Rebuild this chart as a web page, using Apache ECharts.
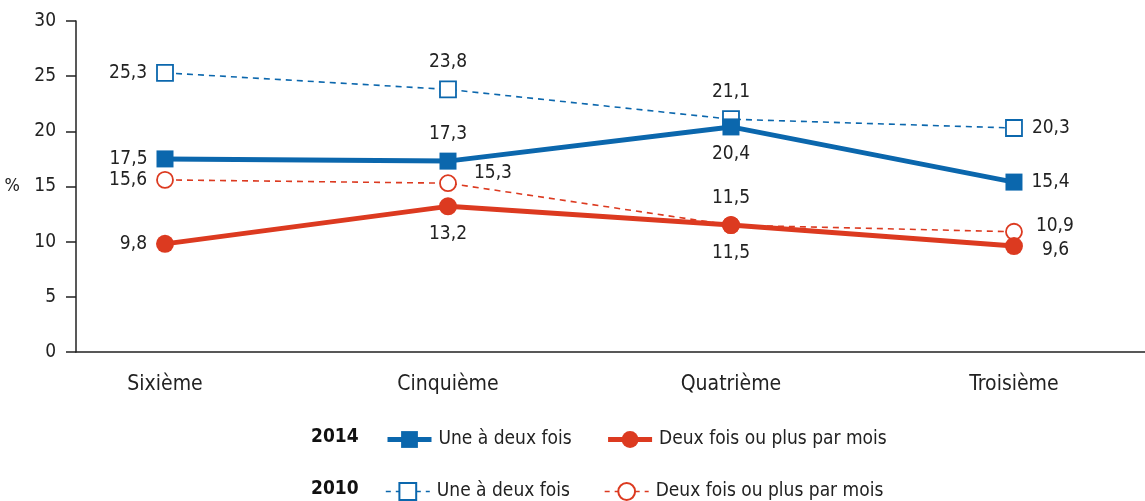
<!DOCTYPE html>
<html>
<head>
<meta charset="utf-8">
<script src="https://cdn.jsdelivr.net/npm/echarts@6/dist/echarts.min.js"></script>
<style>
html, body { margin: 0; padding: 0; background: #fff; }
#chart { width: 1145px; height: 501px; }
</style>
</head>
<body>
<div id="chart"></div>
<script>
var categories = ['Sixième', 'Cinquième', 'Quatrième', 'Troisième'];
var une2014 = [17.5, 17.3, 20.4, 15.4];
var plus2014 = [9.8, 13.2, 11.5, 9.6];
var une2010 = [25.3, 23.8, 21.1, 20.3];
var plus2010 = [15.6, 15.3, 11.5, 10.9];
var yTicks = [0, 5, 10, 15, 20, 25, 30];

var FONT = "'Liberation Sans Narrow', 'DejaVu Sans Condensed', sans-serif";
var BLUE = '#0b67ad';
var RED = '#dc3a20';
var INK = '#222';

// label placement per point (style, kept apart from the values)
function points(values, places) {
  return values.map(function (v, i) {
    var p = places[i];
    return {
      value: [i, v],
      label: { position: p[0], offset: p[1] || [0, 0] }
    };
  });
}

function fmt(p) {
  return String(p.value[1]).replace('.', ',');
}

var labelBase = {
  show: true,
  formatter: fmt,
  color: INK,
  fontFamily: FONT,
  fontSize: 19,
  distance: 9
};

function legendRow(top, names, lineW, dashed) {
  return {
    left: 380, top: top,
    itemWidth: 44, itemHeight: 21, itemGap: 34,
    textStyle: { color: INK, fontFamily: FONT, fontSize: 19, padding: [0, 0, 0, 2] },
    lineStyle: { width: lineW, type: dashed ? [5, 5] : 'solid' },
    formatter: function (n) { return n.replace(/ 20\d\d$/, ''); },
    data: names
  };
}

var chart = echarts.init(document.getElementById('chart'));
var option = {
  animation: false,
  textStyle: { fontFamily: FONT },
  grid: { left: 76, right: 0, top: 21, bottom: 149 },
  xAxis: {
    type: 'value',
    min: -0.3145,
    max: 3.463,
    splitLine: { show: false },
    axisLine: { show: true, onZero: false, lineStyle: { color: INK, width: 1.5 } },
    axisTick: { show: false },
    axisLabel: {
      customValues: [0, 1, 2, 3],
      formatter: function (v) { return categories[Math.round(v)]; },
      color: INK,
      fontFamily: FONT,
      fontSize: 21,
      margin: 22
    }
  },
  yAxis: {
    type: 'value',
    min: 0,
    max: 30,
    interval: 5,
    name: '%',
    nameLocation: 'middle',
    nameRotate: 0,
    nameGap: 56,
    nameTextStyle: { color: INK, fontFamily: FONT, fontSize: 18 },
    splitLine: { show: false },
    axisLine: { show: true, onZero: false, lineStyle: { color: INK, width: 1.5 } },
    axisTick: { show: true, length: 10, lineStyle: { color: INK, width: 1.5 } },
    axisLabel: {
      formatter: function (v) { return yTicks.indexOf(v) >= 0 ? String(v) : ''; },
      color: INK,
      fontFamily: FONT,
      fontSize: 19,
      margin: 20
    }
  },
  legend: [
    legendRow(425, ['Une à deux fois 2014', 'Deux fois ou plus par mois 2014'], 5, false),
    legendRow(477, ['Une à deux fois 2010', 'Deux fois ou plus par mois 2010'], 1.6, true)
  ],
  graphic: [
    { type: 'text', left: 311, top: 428, style: { text: '2014', fill: '#111', font: 'bold 19px ' + FONT } },
    { type: 'text', left: 311, top: 480, style: { text: '2010', fill: '#111', font: 'bold 19px ' + FONT } }
  ],
  series: [
    {
      name: 'Une à deux fois 2010',
      type: 'line',
      symbol: 'rect',
      symbolSize: 16,
      z: 2,
      itemStyle: { color: '#fff', borderColor: BLUE, borderWidth: 1.8 },
      lineStyle: { color: BLUE, width: 1.6, type: [6, 5] },
      label: labelBase,
      data: points(une2010, [['left'], ['top'], ['top'], ['right']])
    },
    {
      name: 'Deux fois ou plus par mois 2010',
      type: 'line',
      symbol: 'circle',
      symbolSize: 16,
      z: 2,
      itemStyle: { color: '#fff', borderColor: RED, borderWidth: 1.8 },
      lineStyle: { color: RED, width: 1.6, type: [6, 5] },
      label: labelBase,
      data: points(plus2010, [['left'], ['right', [8, -10]], ['top'], ['right', [4, -6]]])
    },
    {
      name: 'Une à deux fois 2014',
      type: 'line',
      symbol: 'rect',
      symbolSize: 17,
      z: 3,
      itemStyle: { color: BLUE },
      lineStyle: { color: BLUE, width: 5 },
      label: labelBase,
      data: points(une2014, [['left'], ['top'], ['bottom'], ['right']])
    },
    {
      name: 'Deux fois ou plus par mois 2014',
      type: 'line',
      symbol: 'circle',
      symbolSize: 18,
      z: 3,
      itemStyle: { color: RED },
      lineStyle: { color: RED, width: 5 },
      label: labelBase,
      data: points(plus2014, [['left'], ['bottom'], ['bottom'], ['right', [10, 4]]])
    }
  ]
};
chart.setOption(option);
</script>
</body>
</html>
